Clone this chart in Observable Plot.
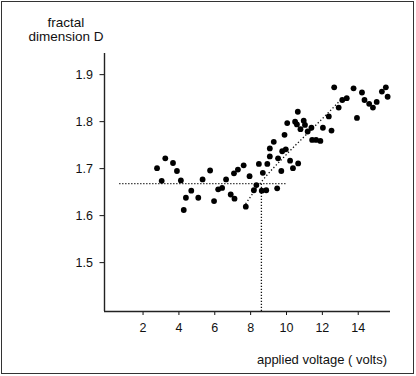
<!DOCTYPE html>
<html>
<head>
<meta charset="utf-8">
<script src="https://cdn.jsdelivr.net/npm/d3@7"></script>
<script src="https://cdn.jsdelivr.net/npm/@observablehq/plot@0.6"></script>
<style>
  html, body { margin: 0; padding: 0; background: #fff; }
  #wrap { position: relative; width: 416px; height: 376px; overflow: hidden; font-family: "Liberation Sans", Arial, Helvetica, sans-serif; color: #111; }
  #border { position: absolute; left: 1px; top: 1px; width: 411px; height: 371px; border: 1.5px solid #333; }
  #chart { position: absolute; left: 0; top: 0; }
  .lbl { position: absolute; font-size: 13.5px; line-height: 14px; white-space: nowrap; }
  #ylab { left: 16px; width: 100px; top: 16px; text-align: center; }
  #xlab { right: 29px; top: 353px; font-size: 13px; }
</style>
</head>
<body>
<div id="wrap">
  <div id="chart"></div>
  <div id="border"></div>
  <div class="lbl" id="ylab">fractal<br>dimension D</div>
  <div class="lbl" id="xlab">applied voltage ( volts)</div>
</div>
<script>
// applied voltage (volts)
const voltage = [2.78, 3.24, 3.67, 3.89, 3.04, 4.11, 4.69, 4.39, 4.27, 5.08,
  5.32, 5.74, 6.19, 5.96, 6.41, 6.63, 6.89, 7.10, 7.07, 7.29,
  7.61, 7.94, 7.73, 8.18, 8.32, 8.46, 8.68, 8.62, 8.87, 8.93,
  9.07, 9.07, 9.29, 9.48, 9.71, 9.53, 9.76, 9.96, 10.20, 10.65,
  10.36, 9.89, 10.63, 10.04, 10.48, 10.58, 10.96, 11.03, 10.78, 11.18,
  11.39, 12.03, 12.51, 12.36, 12.91, 11.43, 11.65, 11.89, 12.66, 13.74,
  14.21, 14.35, 14.61, 14.82, 15.03, 15.32, 15.54, 15.64, 13.93, 13.36,
  13.11];
// fractal dimension D
const dimension = [1.701, 1.722, 1.712, 1.695, 1.674, 1.675, 1.653, 1.638, 1.612, 1.638,
  1.677, 1.696, 1.656, 1.631, 1.659, 1.677, 1.645, 1.636, 1.690, 1.698,
  1.707, 1.684, 1.619, 1.654, 1.665, 1.710, 1.691, 1.653, 1.654, 1.710,
  1.726, 1.743, 1.757, 1.658, 1.695, 1.722, 1.737, 1.741, 1.717, 1.711,
  1.701, 1.772, 1.821, 1.797, 1.800, 1.794, 1.802, 1.793, 1.784, 1.779,
  1.787, 1.787, 1.781, 1.811, 1.830, 1.761, 1.761, 1.759, 1.873, 1.871,
  1.862, 1.846, 1.838, 1.830, 1.842, 1.864, 1.873, 1.853, 1.808, 1.850,
  1.846];

// plateau level and its extent, crossover voltage
const plateauLevel = 1.668;
const plateauRange = [0.7, 10.0];
const crossoverVoltage = 8.6;

// rising trend (dotted)
const fitVoltage = [7.72, 8.56, 9.94, 11.33, 12.28, 13.0, 13.11];
const fitDimension = [1.625, 1.670, 1.728, 1.781, 1.817, 1.845, 1.849];

const xTicks = [2, 4, 6, 8, 10, 12, 14];
const yTicks = [1.5, 1.6, 1.7, 1.8, 1.9];
const xDomain = [-0.15, 15.8];
const yDomain = [1.396, 1.945];

const points = voltage.map((v, i) => ({v, d: dimension[i]}));
const fit = fitVoltage.map((v, i) => ({v, d: fitDimension[i]}));

const dash = "1.2,1.8";
const chart = Plot.plot({
  width: 416,
  height: 376,
  marginLeft: 104,
  marginRight: 26,
  marginTop: 53,
  marginBottom: 65,
  style: {fontFamily: '"Liberation Sans", Arial, Helvetica, sans-serif', fontSize: "12.5px", color: "#111", background: "transparent"},
  x: {domain: xDomain, ticks: xTicks, tickSize: 4, tickPadding: 8, label: null},
  y: {domain: yDomain, ticks: yTicks, tickSize: 4.5, tickPadding: 7, label: null, tickFormat: d3.format(".1f")},
  marks: [
    Plot.ruleY([yDomain[0]], {stroke: "#222", strokeWidth: 1.4}),
    Plot.ruleX([xDomain[0]], {stroke: "#222", strokeWidth: 1.4}),
    Plot.ruleY([plateauLevel], {x1: plateauRange[0], x2: plateauRange[1], stroke: "#111", strokeWidth: 1.3, strokeDasharray: dash}),
    Plot.ruleX([crossoverVoltage], {y1: yDomain[0], y2: plateauLevel, stroke: "#111", strokeWidth: 1.3, strokeDasharray: dash}),
    Plot.line(fit, {x: "v", y: "d", stroke: "#111", strokeWidth: 1.3, strokeDasharray: "1.3,2.2", strokeLinecap: "butt", curve: "monotone-x"}),
    Plot.dot(points, {x: "v", y: "d", r: 2.9, fill: "#000", stroke: "none"})
  ]
});
document.getElementById("chart").appendChild(chart);
</script>
</body>
</html>
